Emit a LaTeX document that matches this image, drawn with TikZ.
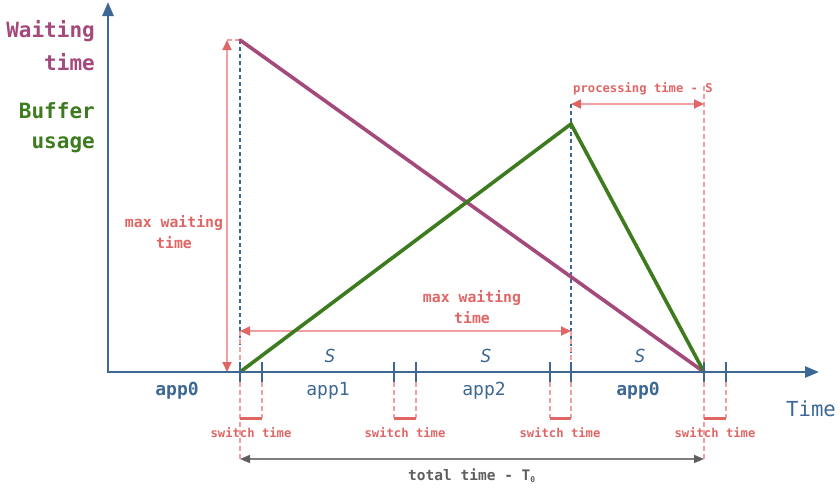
\documentclass[tikz,border=0pt]{standalone}
\usepackage{fontspec}
\setmainfont{DejaVu Sans Mono}
\usetikzlibrary{arrows.meta}
\definecolor{axisblue}{HTML}{3D6893}
\definecolor{wpurple}{HTML}{A34A7B}
\definecolor{bgreen}{HTML}{3E7B1F}
\definecolor{pinkdark}{HTML}{E06666}
\definecolor{pinklight}{HTML}{F0A0A0}
\definecolor{totgray}{HTML}{5E5E5E}
\tikzset{
  axisline/.style={axisblue, line width=2.6pt, {Triangle[length=14pt,width=11pt]}-{Triangle[length=14pt,width=11pt]}},
  tickline/.style={axisblue, line width=2.2pt},
  bluedash/.style={axisblue, line width=1.3pt, dash pattern=on 4pt off 3pt},
  pinkdash/.style={pinklight, line width=1.4pt, dash pattern=on 5pt off 3pt},
  pinkarrow/.style={pinklight, line width=2pt, {Triangle[length=10pt,width=9pt,color=pinkdark]}-{Triangle[length=10pt,width=9pt,color=pinkdark]}},
  bracketline/.style={pinkdark, line width=3pt},
  grayarrow/.style={totgray!80, line width=1.6pt, {Triangle[length=10pt,width=8pt,color=totgray]}-{Triangle[length=10pt,width=8pt,color=totgray]}},
  curveW/.style={wpurple, line width=3.6pt, line cap=round},
  curveB/.style={bgreen, line width=3.6pt, line join=miter, line cap=round},
  ylab/.style={font=\fontsize{21}{25}\selectfont\bfseries, anchor=base east, inner sep=0pt},
  pinklab/.style={pinkdark, font=\fontsize{14.8}{18}\selectfont\bfseries, anchor=base, inner sep=0pt},
  switchlab/.style={pinkdark, font=\fontsize{12.2}{14}\selectfont\bfseries, anchor=base, inner sep=0pt},
  applab/.style={axisblue, font=\fontsize{18}{21}\selectfont, anchor=base, inner sep=0pt},
  slab/.style={axisblue, font=\fontsize{18}{21}\selectfont\itshape, anchor=base, inner sep=0pt},
}
\begin{document}
\begin{tikzpicture}[x=1pt,y=-1pt]
\useasboundingbox (0,0) rectangle (840,490);
% key coordinates
\coordinate (O) at (108,372);
\coordinate (ytop) at (108,2);
\coordinate (xend) at (819,372);
\coordinate (A) at (240,40);
\coordinate (A0) at (227,40);
\coordinate (P) at (571,124);
\coordinate (E) at (704,372);
\foreach \n/\x in {1/240,2/262,3/394,4/416,5/550,6/571,7/704,8/726}{
  \coordinate (t\n) at (\x,372);
  \coordinate (tt\n) at (\x,362);
  \coordinate (tb\n) at (\x,382);
  \coordinate (bk\n) at (\x,418);
}
\coordinate (tot1) at (240,459);
\coordinate (tot7) at (704,459);
\coordinate (mw1) at (240,331);
\coordinate (mw6) at (571,331);
\coordinate (pr6) at (571,104);
\coordinate (pr7) at (704,104);
\coordinate (vtop) at (227,40);
\coordinate (vbot) at (227,372);
\coordinate (pdtop) at (704,86);

% guide dashed lines
\draw[bluedash] (A) -- (t1);
\draw[bluedash] (pr6) -- (t6);
\draw[pinkdash] (A0) -- (A);
\draw[pinkdash] (pdtop) -- (tot7);
\draw[pinkdash] (mw1) -- (t1);
\draw[pinkdash] (mw6) -- (t6);
\draw[pinkdash] (tb1) -- (tot1);
\foreach \n in {2,3,4,5,6,8}{ \draw[pinkdash] (tb\n) -- (bk\n); }
% switch brackets
\draw[bracketline] (bk1) -- (bk2);
\draw[bracketline] (bk3) -- (bk4);
\draw[bracketline] (bk5) -- (bk6);
\draw[bracketline] (bk7) -- (bk8);

% dimension arrows
\draw[pinkarrow] (vtop) -- (vbot);
\draw[pinkarrow] (mw1) -- (mw6);
\draw[pinkarrow] (pr6) -- (pr7);
\draw[grayarrow] (tot1) -- (tot7);

% curves
\draw[curveW] (A) -- (E);
\draw[curveB] (t1) -- (P) -- (E);

% axes
\draw[axisline] (ytop) |- (xend);
\foreach \n in {1,...,8}{ \draw[tickline] (tt\n) -- (tb\n); }

% axis labels
\node[ylab, wpurple] (lw1) at (95,37) {Waiting};
\node[ylab, wpurple] (lw2) at (95,70) {time};
\node[ylab, bgreen] (lb1) at (95,118) {Buffer};
\node[ylab, bgreen] (lb2) at (95,148) {usage};
\node[axisblue, font=\fontsize{20.7}{24}\selectfont, anchor=base, inner sep=0pt] (ltime) at (811,416) {Time};

% pink labels
\node[pinklab] (mwl1) at (174,227) {max waiting};
\node[pinklab] (mwl2) at (174,248) {time};
\node[pinklab] (mwm1) at (472,302) {max waiting};
\node[pinklab] (mwm2) at (472,323) {time};
\node[switchlab] (proc) at (643,92) {processing time - S};
\node[switchlab] (sw1) at (251,437) {switch time};
\node[switchlab] (sw2) at (405,437) {switch time};
\node[switchlab] (sw3) at (560,437) {switch time};
\node[switchlab] (sw4) at (715,437) {switch time};

% app labels
\node[applab, font=\fontsize{18}{21}\selectfont\bfseries] (a0) at (177,395) {app0};
\node[applab] (a1) at (328,395) {app1};
\node[applab] (a2) at (484,395) {app2};
\node[applab, font=\fontsize{18}{21}\selectfont\bfseries] (a3) at (638,395) {app0};
\node[slab] (s1) at (330,362) {S};
\node[slab] (s2) at (486,362) {S};
\node[slab] (s3) at (640,362) {S};

% total time
\node[totgray, font=\fontsize{14.5}{17}\selectfont\bfseries, anchor=base, inner sep=0pt] (tot) at (472,480) {total time - T\textsubscript{\fontsize{8}{9}\selectfont 0}};
\end{tikzpicture}
\end{document}
